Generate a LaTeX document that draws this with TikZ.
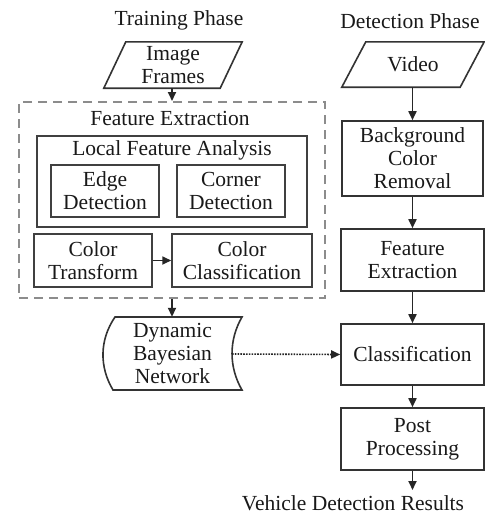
\documentclass[tikz,border=0pt]{standalone}
\usepackage{fontspec}
\setmainfont{Liberation Serif}
\usetikzlibrary{arrows.meta}
\begin{document}
\begin{tikzpicture}[x=1pt,y=-1pt,
  font=\fontsize{21.5}{23}\selectfont,
  txt/.style={text=black!90, align=center, inner sep=0},
  box/.style={txt, draw=black!80, line width=1.6pt},
  ibox/.style={txt, draw=black!75, line width=1.5pt},
  ghost/.style={txt, draw=none},
  arr/.style={-{Triangle[length=9pt,width=8pt]}, line width=1.7pt, draw=black!85},
  darr/.style={-{Triangle[length=9pt,width=8pt]}, line width=1.6pt, draw=black!85, dash pattern=on 1.6pt off 1.2pt},
  outline/.style={draw=black!80, line width=1.6pt}
]
\useasboundingbox (0,0) rectangle (485,515);

% titles
\node[txt] (tp) at (179,20) {Training Phase};
\node[txt] (dp) at (410,21) {Detection Phase};

% Image Frames parallelogram
\node[ghost, minimum width=116pt, minimum height=46pt] (img) at (173,65) {Image\\Frames};
\draw[outline] ([xshift=11pt]img.north west) -- ([xshift=11pt]img.north east)
  -- ([xshift=-11pt]img.south east) -- ([xshift=-11pt]img.south west) -- cycle;

% Video parallelogram
\node[ghost, minimum width=118pt, minimum height=45pt] (vid) at (413,64.5) {Video};
\draw[outline] ([xshift=12pt]vid.north west) -- ([xshift=12pt]vid.north east)
  -- ([xshift=-12pt]vid.south east) -- ([xshift=-12pt]vid.south west) -- cycle;

% Feature extraction dashed container
\node[draw=black!45, line width=2pt, dash pattern=on 9pt off 6pt,
  minimum width=306pt, minimum height=196pt, inner sep=0] (fe) at (172,200) {};
\node[txt] (fet) at (170,118) {Feature Extraction};

% Local feature analysis
\node[ibox, minimum width=270pt, minimum height=91pt] (lfa) at (172,181.5) {};
\node[txt] (lfat) at (172,150) {Local Feature Analysis};
\node[ibox, minimum width=108pt, minimum height=52pt] (edge) at (105,191) {Edge\\Detection};
\node[ibox, minimum width=108pt, minimum height=52pt] (corner) at (231,191) {Corner\\Detection};

% Color boxes
\node[ibox, minimum width=118pt, minimum height=53pt] (ct) at (93,260.5) {Color\\Transform};
\node[ibox, minimum width=140pt, minimum height=53pt] (cc) at (242,260.5) {Color\\Classification};

% Dynamic Bayesian Network (stored data shape)
\node[ghost, minimum width=139pt, minimum height=73pt] (dbn) at (172.5,353.5) {Dynamic\\Bayesian\\Network};
\draw[outline] (115,317) -- (242,317) .. controls (228.7,340) and (228.7,367) .. (242,390)
  -- (113,390) .. controls (99.3,367) and (99.3,340) .. (115,317) -- cycle;
\coordinate (dbnR) at (232,354);

% Right column
\node[box, minimum width=141pt, minimum height=75pt] (bcr) at (412.5,158.5) {Background\\Color\\Removal};
\node[box, minimum width=143pt, minimum height=62pt] (fe2) at (412.5,260) {Feature\\Extraction};
\node[box, minimum width=143pt, minimum height=61pt] (cls) at (412.5,354.5) {Classification};
\node[box, minimum width=143pt, minimum height=62pt] (post) at (412.5,439) {Post\\Processing};
\coordinate (res) at (412.5,490);
\node[txt] (vdr) at (353,503) {Vehicle Detection Results};

% connectors
\draw[arr] (img.south -| fe.north) -- (fe.north);
\draw[arr] (ct.east) -- (cc.west);
\draw[arr] (fe.south) -- (dbn.north -| fe.south);
\draw[darr] (dbnR) -- (cls.west);
\draw[arr] (vid.south -| bcr.north) -- (bcr.north);
\draw[arr] (bcr.south) -- (fe2.north);
\draw[arr] (fe2.south) -- (cls.north);
\draw[arr] (cls.south) -- (post.north);
\draw[arr] (post.south) -- (res);
\end{tikzpicture}
\end{document}
